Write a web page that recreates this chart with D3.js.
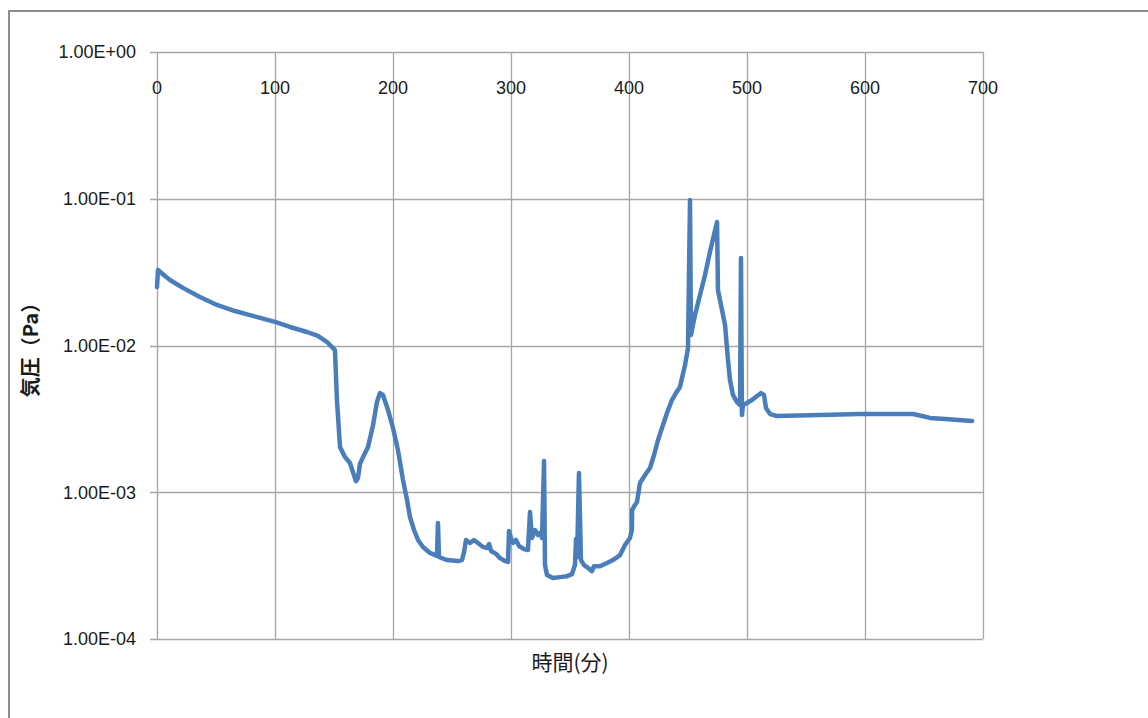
<!DOCTYPE html>
<html>
<head>
<meta charset="utf-8">
<script src="https://cdn.jsdelivr.net/npm/d3@7"></script>
<style>
  html, body { margin: 0; padding: 0; background: #fff; }
  svg { display: block; }
</style>
</head>
<body>
<svg id="chart" width="1148" height="718"></svg>
<script>
// Elapsed time (minutes) and chamber pressure (Pa)
const timeMin = [
  0, 0.85, 6.8, 11.0, 22.0, 36.4, 50.8, 66.1, 78.8, 100,
  112.7, 127.1, 136.4, 144.1, 149.2, 150.8,
  152.5, 155.1, 159.3, 163.6, 166.1, 168.6, 170.3, 172.0, 175.4, 178.8,
  183.1, 186.4, 189.0, 191.5, 195.8, 200, 204.2, 208.5, 211.9, 214.4,
  217.8, 221.2, 225.4, 231.4, 237.3, 238.1, 239.0, 245.8, 255.1, 258.5,
  260.2, 261.9, 265.3, 268.6, 272.0, 276.3, 279.7, 281.4, 283.1, 287.3,
  290.7, 294.9, 297.5, 298.3, 300, 301.7, 304.2, 306.8, 311.0, 314.4,
  316.1, 317.8, 320.3, 322.9, 325.4, 326.3, 328.0, 328.8, 330.5, 335.6,
  341.5, 347.5, 351.7, 354.2, 355.1, 356.0, 357.6, 359.3, 361.9, 365.3,
  368.6, 370.3, 375.4, 381.4, 386.4, 392.4, 396.6, 400.8, 402.5, 402.6,
  405.1, 406.8, 409.3, 413.6, 417.8, 421.2, 424.6, 428.8, 432.2, 436.4,
  439.8, 443.2, 444.9, 447.5, 450.0, 451.7, 452.5, 455.9, 460.2, 464.4,
  468.6, 472.0, 474.6, 475.4, 478.8, 481.4, 483.9, 485.6, 488.1, 491.5,
  494.1, 494.9, 495.7, 496.6, 500, 504.2, 508.5, 511.9, 514.4, 516.1,
  519.5, 525.4, 561.9, 595.8, 612.7, 629.7, 640.7, 648.3, 655.1, 667.8,
  690.7
];
const pressurePa = [
  0.0250, 0.0327, 0.02976, 0.02795, 0.0247, 0.0214, 0.0189, 0.01718, 0.0161, 0.0145,
  0.01337, 0.01236, 0.01161, 0.01056, 0.00961, 0.00932,
  0.00425, 0.00203, 0.00174, 0.00158, 0.00137, 0.00119, 0.00125, 0.00156, 0.00179, 0.00203,
  0.00287, 0.00412, 0.00474, 0.00460, 0.00363, 0.00274, 0.00194, 0.00121, 0.000885, 0.000678,
  0.000553, 0.000473, 0.000424, 0.000386, 0.000368, 0.000617, 0.000362, 0.000345, 0.000340, 0.000345,
  0.000392, 0.000473, 0.000451, 0.000473, 0.000451, 0.000424, 0.000417, 0.000444, 0.000398, 0.000380,
  0.000356, 0.000340, 0.000335, 0.000544, 0.000488, 0.000451, 0.000473, 0.000430, 0.000410, 0.000404,
  0.000733, 0.000488, 0.000553, 0.000511, 0.000533, 0.000488, 0.001633, 0.000319, 0.000273, 0.000260,
  0.000264, 0.000268, 0.000277, 0.000319, 0.000480, 0.000360, 0.001352, 0.000345, 0.000319, 0.000305,
  0.000290, 0.000313, 0.000313, 0.000330, 0.000345, 0.000373, 0.000437, 0.000488, 0.000553, 0.000757,
  0.000819, 0.000860, 0.001156, 0.001312, 0.001463, 0.001795, 0.00227, 0.00287, 0.00347, 0.00425,
  0.00474, 0.00521, 0.00601, 0.00737, 0.00961, 0.0982, 0.0118, 0.0161, 0.0221, 0.0302,
  0.0434, 0.0566, 0.0695, 0.0239, 0.0175, 0.0138, 0.00796, 0.00582, 0.00460, 0.00412,
  0.00393, 0.0395, 0.00336, 0.00393, 0.00406, 0.00425, 0.00453, 0.00474, 0.00460, 0.00375,
  0.00341, 0.00331, 0.00336, 0.00341, 0.00341, 0.00341, 0.00341, 0.00331, 0.00321, 0.00316,
  0.00306
];

const xTicks = [0, 100, 200, 300, 400, 500, 600, 700];
const yTicks = [1e0, 1e-1, 1e-2, 1e-3, 1e-4];
const yTickLabels = ["1.00E+00", "1.00E-01", "1.00E-02", "1.00E-03", "1.00E-04"];
const xTitle = "時間(分)";
const yTitle = "気圧（Pa）";

const svg = d3.select("#chart");
const plot = { left: 157, right: 983, top: 52, bottom: 639 };

const x = d3.scaleLinear().domain([0, 700]).range([plot.left, plot.right]);
const y = d3.scaleLog().domain([1e-4, 1e0]).range([plot.bottom, plot.top]);

const gridColor = "#a6a6a6";
const numFont = "'Liberation Sans', Arial, sans-serif";
const cjkFont = "'Noto Sans CJK JP', 'Noto Sans', sans-serif";

// outer chart border
svg.append("rect")
  .attr("x", 9).attr("y", 11)
  .attr("width", 1160).attr("height", 730)
  .attr("fill", "none")
  .attr("stroke", "#8c8c8c")
  .attr("stroke-width", 2);

// horizontal gridlines (decades), with short tick stubs on the left
svg.append("g")
  .selectAll("line")
  .data(yTicks)
  .join("line")
  .attr("x1", plot.left - 7)
  .attr("x2", plot.right)
  .attr("y1", d => Math.round(y(d)) + 0.5)
  .attr("y2", d => Math.round(y(d)) + 0.5)
  .attr("stroke", gridColor)
  .attr("stroke-width", 1.3);

// vertical gridlines
svg.append("g")
  .selectAll("line")
  .data(xTicks)
  .join("line")
  .attr("x1", d => Math.round(x(d)) + 0.5)
  .attr("x2", d => Math.round(x(d)) + 0.5)
  .attr("y1", plot.top)
  .attr("y2", plot.bottom)
  .attr("stroke", gridColor)
  .attr("stroke-width", 1.3);

// y tick labels
svg.append("g")
  .selectAll("text")
  .data(yTicks)
  .join("text")
  .attr("x", 136)
  .attr("y", d => y(d))
  .attr("dy", "0.35em")
  .attr("text-anchor", "end")
  .attr("font-family", numFont)
  .attr("font-size", 18)
  .attr("fill", "#1a1a1a")
  .text((d, i) => yTickLabels[i]);

// x tick labels, placed just under the top axis line
svg.append("g")
  .selectAll("text")
  .data(xTicks)
  .join("text")
  .attr("x", d => x(d))
  .attr("y", 88)
  .attr("dy", "0.35em")
  .attr("text-anchor", "middle")
  .attr("font-family", numFont)
  .attr("font-size", 18)
  .attr("fill", "#1a1a1a")
  .text(d => d);

// pressure trace
const series = timeMin.map((t, i) => [t, pressurePa[i]]);
const line = d3.line()
  .x(d => x(d[0]))
  .y(d => y(d[1]))
  .curve(d3.curveLinear);

svg.append("path")
  .datum(series)
  .attr("d", line)
  .attr("fill", "none")
  .attr("stroke", "#4a7ebb")
  .attr("stroke-width", 4.5)
  .attr("stroke-linejoin", "round")
  .attr("stroke-linecap", "round");

// axis titles
svg.append("text")
  .attr("x", (plot.left + plot.right) / 2)
  .attr("y", 663)
  .attr("dy", "0.35em")
  .attr("text-anchor", "middle")
  .attr("font-family", cjkFont)
  .attr("font-size", 21)
  .attr("fill", "#1a1a1a")
  .text(xTitle);

svg.append("text")
  .attr("transform", "translate(31,345) rotate(-90)")
  .attr("dy", "0.35em")
  .attr("text-anchor", "middle")
  .attr("font-family", cjkFont)
  .attr("font-weight", "bold")
  .attr("font-size", 20)
  .attr("fill", "#1a1a1a")
  .text(yTitle);
</script>
</body>
</html>
